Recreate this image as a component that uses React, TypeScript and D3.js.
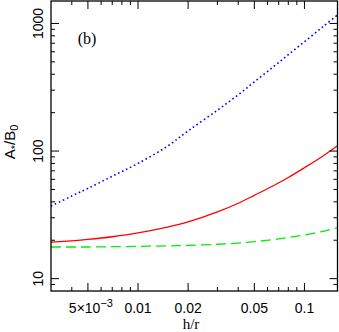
import React, { useEffect, useRef } from 'react';
import * as d3 from 'd3';

// h/r sample positions and the three curves
const hr = [0.003, 0.004, 0.005, 0.007, 0.01, 0.015, 0.02, 0.03, 0.04, 0.05, 0.065, 0.08, 0.1, 0.13, 0.158];
const dottedBlue = [37, 44.4, 51, 63.5, 80, 109, 144, 209, 276, 348, 457, 569, 719, 949, 1167];
const solidRed = [19.3, 19.8, 20.3, 21.3, 22.8, 25.3, 27.8, 33.3, 39.0, 45.0, 53.5, 62.0, 74.0, 92.0, 110];
const dashedGreen = [17.7, 17.7, 17.7, 17.8, 17.9, 18.05, 18.2, 18.6, 19.0, 19.5, 20.2, 21.0, 22.0, 23.5, 25.1];

const xMajor = [0.005, 0.01, 0.02, 0.05, 0.1];
const xMinor = [0.004, 0.006, 0.007, 0.008, 0.009, 0.03, 0.04, 0.06, 0.07, 0.08, 0.09];
const yMajor = [10, 100, 1000];
const yMinor = [9, 20, 30, 40, 50, 60, 70, 80, 90, 200, 300, 400, 500, 600, 700, 800, 900];

const W = 339;
const H = 332;

const App = () => {
  const ref = useRef<SVGSVGElement>(null);

  useEffect(() => {
    if (!ref.current) return;
    const svg = d3.select(ref.current);
    svg.selectAll('*').remove();

    const left = 51, right = 337.5, top = 1, bottom = 291;

    const x = d3.scaleLog().domain([0.003, 0.158]).range([left, right]);
    const y = d3.scaleLog().domain([8, 1500]).range([bottom, top]);

    const sans = 'Liberation Sans, Arial, sans-serif';
    const serif = 'Liberation Serif, Times New Roman, serif';

    // curves
    const curves = [
      { vals: dottedBlue, color: '#0000ff', dash: '1.6,2.8', width: 1.6 },
      { vals: solidRed, color: '#ff0000', dash: null, width: 1.3 },
      { vals: dashedGreen, color: '#00ee00', dash: '10,5', width: 1.3 },
    ];
    const line = d3.line<number>()
      .x((_, i) => x(hr[i]))
      .y(d => y(d))
      .curve(d3.curveCatmullRom.alpha(0.5));

    svg.append('g')
      .selectAll('path')
      .data(curves)
      .join('path')
        .attr('d', d => line(d.vals))
        .attr('fill', 'none')
        .attr('stroke', d => d.color)
        .attr('stroke-width', d => d.width)
        .attr('stroke-dasharray', d => d.dash);

    // ticks on all four sides, pointing inward
    const ticks = svg.append('g').attr('stroke', '#000').attr('stroke-width', 1);
    const xTicks = [...xMajor.map(v => ({ v, len: 8 })), ...xMinor.map(v => ({ v, len: 4 }))];
    const yTicks = [...yMajor.map(v => ({ v, len: 8 })), ...yMinor.map(v => ({ v, len: 4 }))];

    xTicks.forEach(t => {
      const px = x(t.v);
      ticks.append('line').attr('x1', px).attr('x2', px).attr('y1', bottom).attr('y2', bottom - t.len);
      ticks.append('line').attr('x1', px).attr('x2', px).attr('y1', top).attr('y2', top + t.len);
    });
    yTicks.forEach(t => {
      const py = y(t.v);
      ticks.append('line').attr('x1', left).attr('x2', left + t.len).attr('y1', py).attr('y2', py);
      ticks.append('line').attr('x1', right).attr('x2', right - t.len).attr('y1', py).attr('y2', py);
    });

    // frame
    svg.append('rect')
      .attr('x', left).attr('y', top)
      .attr('width', right - left).attr('height', bottom - top)
      .attr('fill', 'none').attr('stroke', '#000').attr('stroke-width', 1.3);

    // x tick labels
    const xl = svg.append('g')
      .attr('font-family', sans).attr('font-size', 14).attr('text-anchor', 'middle');
    xMajor.forEach(v => {
      const t = xl.append('text').attr('x', x(v) + (v === 0.005 ? 3 : 0)).attr('y', 313);
      if (v === 0.005) {
        t.append('tspan').text('5×10');
        t.append('tspan').attr('dy', -6).attr('font-size', 11).text('−3');
      } else {
        t.text(String(v));
      }
    });

    // y tick labels, rotated
    svg.append('g')
      .attr('font-family', sans).attr('font-size', 14).attr('text-anchor', 'middle')
      .selectAll('text')
      .data(yMajor)
      .join('text')
        .attr('transform', d => `translate(43,${y(d)}) rotate(-90)`)
        .text(d => String(d));

    // axis titles
    svg.append('text')
      .attr('x', 191).attr('y', 329)
      .attr('font-family', serif).attr('font-size', 15).attr('text-anchor', 'middle')
      .text('h/r');

    const yt = svg.append('text')
      .attr('transform', 'translate(15,142) rotate(-90)')
      .attr('font-family', sans).attr('font-size', 15).attr('text-anchor', 'middle');
    yt.append('tspan').text('A');
    yt.append('tspan').attr('dy', 4).attr('font-size', 11).text('*');
    yt.append('tspan').attr('dy', -4).text('/B');
    yt.append('tspan').attr('dy', 3).attr('font-size', 11).text('0');

    svg.append('text')
      .attr('x', 87).attr('y', 44)
      .attr('font-family', serif).attr('font-size', 16).attr('text-anchor', 'middle')
      .text('(b)');
  }, []);

  return (
    <svg
      ref={ref}
      width={W}
      height={H}
      style={{ position: 'absolute', left: 0, top: 0, background: '#fff' }}
    />
  );
};

export default App;
